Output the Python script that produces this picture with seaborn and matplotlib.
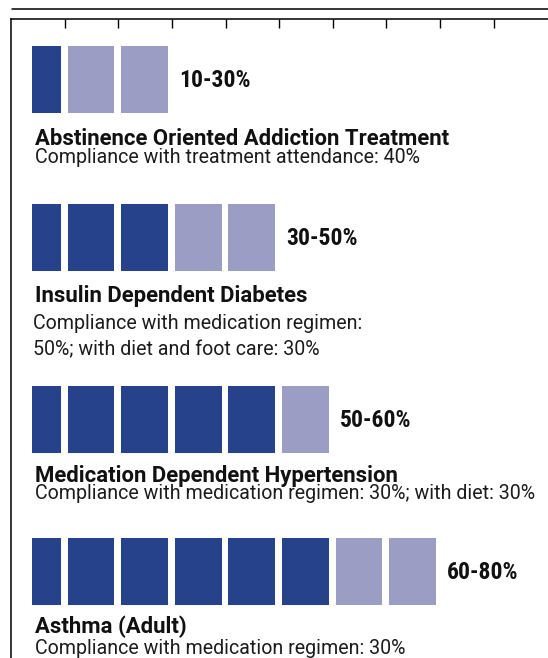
import os
import matplotlib
matplotlib.use("Agg")
import matplotlib.pyplot as plt
from matplotlib import font_manager
from matplotlib.font_manager import FontProperties
from matplotlib.lines import Line2D
import pandas as pd
import seaborn as sns

# ---- data -----------------------------------------------------------------
conditions = [
    "Abstinence Oriented Addiction Treatment",
    "Insulin Dependent Diabetes",
    "Medication Dependent Hypertension",
    "Asthma (Adult)",
]
details = [
    ["Compliance with treatment attendance: 40%"],
    ["Compliance with medication regimen:", "50%; with diet and foot care: 30%"],
    ["Compliance with medication regimen: 30%; with diet: 30%"],
    ["Compliance with medication regimen: 30%"],
]
low_pct = [10, 30, 50, 60]
high_pct = [30, 50, 60, 80]
block_pct = 10
status_colors = {"certain": "#26428A", "range": "#9B9DC4"}

# ---- long table: one row per 10% block -------------------------------------
records = []
for cond, lo, hi in zip(conditions, low_pct, high_pct):
    for slot in range(hi // block_pct):
        records.append({
            "condition": cond,
            "slot": slot,
            "value": 1,
            "status": "certain" if slot < lo // block_pct else "range",
        })
blocks = pd.DataFrame(records)

sns.set_theme(style="white")
plt.rcParams["font.family"] = ["Roboto", "DejaVu Sans"]


def condensed_bold_face():
    """Path of an upright bold condensed face, if one is installed."""
    prefs = ["roboto", "notosans-", "dejavusans", "opensans"]
    best = None
    for f in font_manager.fontManager.ttflist:
        fn = os.path.basename(f.fname).lower()
        if "condensed" not in fn or "bold" not in fn:
            continue
        if any(k in fn for k in ("italic", "oblique", "semi", "extra",
                                 "ultra", "mono", "serif", "display")):
            continue
        rank = next((i for i, p in enumerate(prefs) if fn.startswith(p)),
                    len(prefs))
        if best is None or rank < best[0]:
            best = (rank, f.fname)
    return best[1] if best else None


bold_fp = FontProperties(family=["Roboto", "DejaVu Sans"], weight="bold")
text_fp = FontProperties(family=["Roboto", "DejaVu Sans"], weight="normal")
_cb = condensed_bold_face()
range_fp = FontProperties(fname=_cb) if _cb else bold_fp

# ---- layout (pixels) -------------------------------------------------------
W, H = 548, 658
fig = plt.figure(figsize=(W / 100, H / 100), dpi=100)
fig.patch.set_facecolor("white")
renderer = fig.canvas.get_renderer()


def fx(x):
    return x / W


def fy(y):
    return 1 - y / H


def fitted_size(text, fp, target_px, start=14.0):
    probe = fig.text(0, 0, text, fontproperties=fp, fontsize=start)
    width = probe.get_window_extent(renderer).width
    probe.remove()
    return start * target_px / width


slot_origin = 11.1      # px where slot 0 starts
slot_pitch = 53.6       # px per block slot
frame_top = 18.7
bar_clip_left = 32.2
bar_tops = [45.7, 204.0, 386.0, 537.7]
bar_height = 67.0
bar_center_in_slot = 0.49
title_base = [145.0, 301.7, 481.7, 633.3]
detail_base = [163.0, 328.8, 499.0, 653.8]
detail_step = 26.7
title_x = 35.0
detail_x = [35.0, 33.0, 35.0, 35.0]

title_size = fitted_size(conditions[2], bold_fp, 364)
detail_size = fitted_size(details[2][0], text_fp, 502)
range_size = min(17.0, fitted_size("30-50%", range_fp, 74))

# frame: top rule with tick marks, plus left rule
frame = fig.add_axes([fx(slot_origin), 0, 1 - fx(slot_origin), fy(frame_top)])
frame.set_xlim(0, (W - slot_origin) / slot_pitch)
frame.set_ylim(0, 1)
frame.set_facecolor("none")
for side in ("right", "bottom"):
    frame.spines[side].set_visible(False)
for side in ("top", "left"):
    frame.spines[side].set_color("black")
    frame.spines[side].set_linewidth(1.1)
frame.xaxis.tick_top()
frame.set_xticks(range(1, 10))
frame.tick_params(axis="x", direction="in", length=6.2, width=1.0,
                  color="black", labeltop=False, labelbottom=False, top=True)
frame.set_yticks([])

fig.add_artist(Line2D([fx(12), 1], [fy(9.3), fy(9.3)], color="black",
                      lw=1.1, transform=fig.transFigure))

x_lo = (bar_clip_left - slot_origin) / slot_pitch - bar_center_in_slot
x_hi = (W - slot_origin) / slot_pitch - bar_center_in_slot
bar_width = 0.873
label_gap = 11 / slot_pitch

for i, cond in enumerate(conditions):
    top = bar_tops[i]
    ax = fig.add_axes([fx(bar_clip_left), fy(top + bar_height),
                       1 - fx(bar_clip_left), bar_height / H])
    sub = blocks[blocks["condition"] == cond]
    sns.barplot(data=sub, x="slot", y="value", hue="status",
                palette=status_colors, native_scale=True, width=bar_width,
                dodge=False, saturation=1, errorbar=None, legend=False,
                linewidth=0, ax=ax)
    ax.set_xlim(x_lo, x_hi)
    ax.set_ylim(0, 1)
    ax.axis("off")

    n_total = high_pct[i] // block_pct
    ax.text(n_total - 1 + bar_width / 2 + label_gap, 0.485,
            f"{low_pct[i]}-{high_pct[i]}%", ha="left", va="center",
            fontproperties=range_fp, fontsize=range_size, color="#111111",
            clip_on=False)

    fig.text(fx(title_x), fy(title_base[i]), cond, ha="left", va="baseline",
             fontproperties=bold_fp, fontsize=title_size, color="#111111")
    for k, line in enumerate(details[i]):
        fig.text(fx(detail_x[i]), fy(detail_base[i] + k * detail_step), line,
                 ha="left", va="baseline", fontproperties=text_fp,
                 fontsize=detail_size, color="#1c1c1c")

fig.savefig("out.png", dpi=100, facecolor="white")
